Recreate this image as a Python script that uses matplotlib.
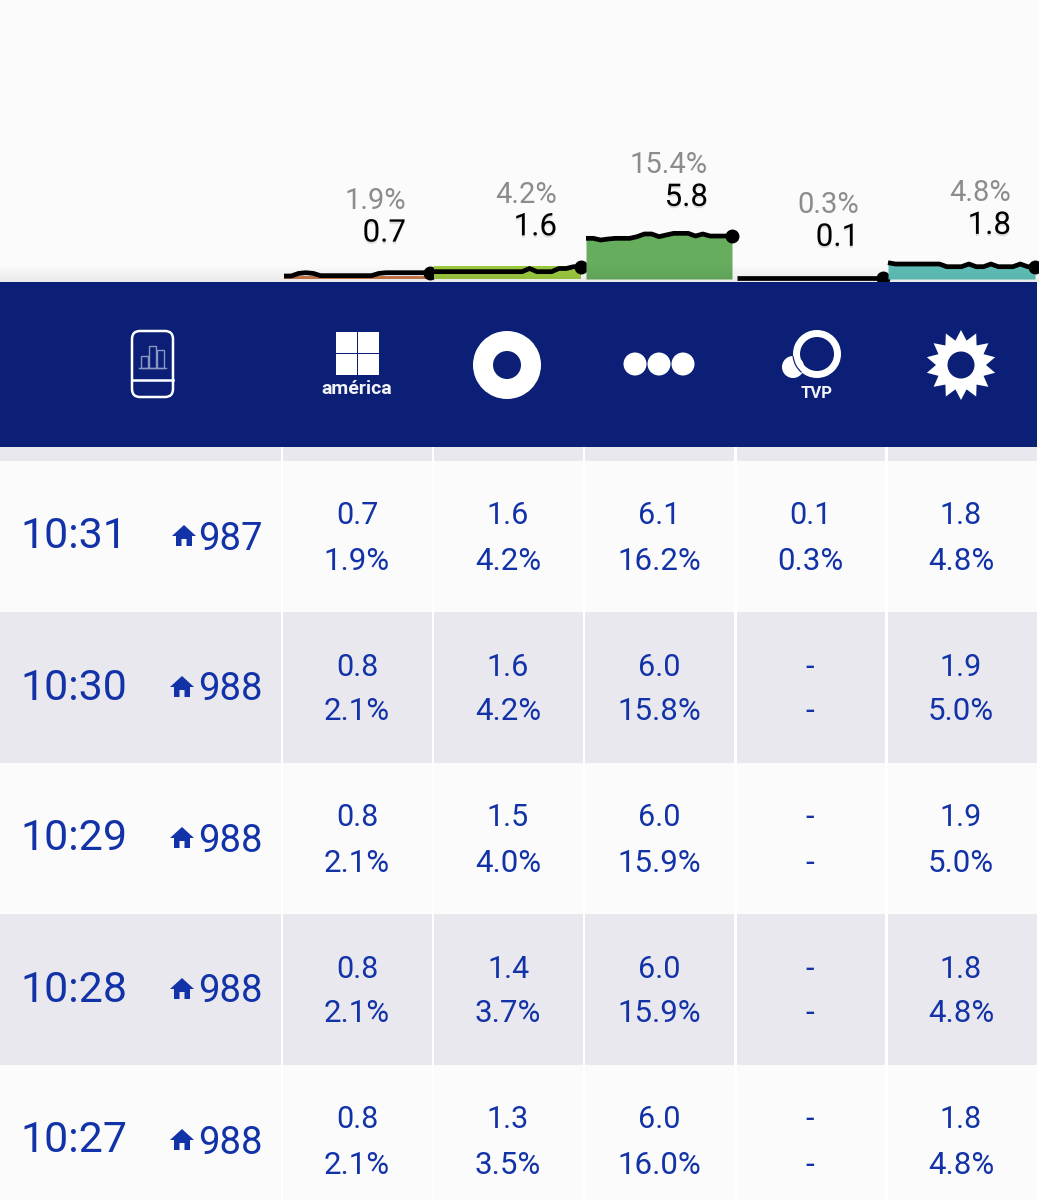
#Minute by minute TV ratings table with the small sparklines on top
import numpy as np
import matplotlib
matplotlib.use("Agg")
import matplotlib.pyplot as plt
import matplotlib.patheffects as pe
from matplotlib.patches import Rectangle, Circle, FancyBboxPatch, Polygon, Wedge

plt.rcParams["font.family"] = ["Roboto", "DejaVu Sans"]

#Table values
times = ["10:31", "10:30", "10:29", "10:28", "10:27"]
homes = ["987", "988", "988", "988", "988"]
america_rating = ["0.7", "0.8", "0.8", "0.8", "0.8"]
america_share = ["1.9%", "2.1%", "2.1%", "2.1%", "2.1%"]
ch9_rating = ["1.6", "1.6", "1.5", "1.4", "1.3"]
ch9_share = ["4.2%", "4.2%", "4.0%", "3.7%", "3.5%"]
ch13_rating = ["6.1", "6.0", "6.0", "6.0", "6.0"]
ch13_share = ["16.2%", "15.8%", "15.9%", "15.9%", "16.0%"]
tvp_rating = ["0.1", "-", "-", "-", "-"]
tvp_share = ["0.3%", "-", "-", "-", "-"]
telefe_rating = ["1.8", "1.9", "1.9", "1.8", "1.8"]
telefe_share = ["4.8%", "5.0%", "5.0%", "4.8%", "4.8%"]

#Sparklines over the header
america_line = [.43, .43, .8, .9, .8, .48, .48, .48, .48, .48, .48, .48, .48, .8, .9, .9, .9, .9, .9, .9, .9]
ch9_line = [1.05, 1.05, 1.05, 1.05, 1.05, 1.05, 1.05, 1.05, 1.05, 1.05, 1.05, 1.05, 1.05, 1.5, 1.05, 1.05, 1.05, 1.5, 1.5, 1.76, 1.76]
ch13_line = [5.81, 5.81, 5.57, 5.71, 5.81, 5.81, 5.81, 6.05, 6.43, 6.43, 6.05, 6.29, 6.52, 6.52, 6.52, 6.14, 6.43, 6.14, 6.14, 6.14, 6.14]
tvp_line = [.14] * 21
telefe_line = [2.33, 2.14, 2.14, 2.14, 2.14, 2.14, 2.14, 2.14, 1.76, 1.76, 1.76, 2.14, 1.76, 1.76, 2.14, 1.76, 1.76, 1.76, 2.14, 1.76, 1.76]
fill_levels = [.5, 1.85, 0, 0, 0]
now_rating = ["0.7", "1.6", "5.8", "0.1", "1.8"]
now_share = ["1.9%", "4.2%", "15.4%", "0.3%", "4.8%"]

W, H = 1039, 1200
NAVY = "#0a1f75"
BLUE = "#1233a8"
GRAY = "#e9e8ef"
BG = "#fbfbfb"
spark_colors = ["#c9784a", "#9bc93f", "#66ad5e", "#fbfbfb", "#5fbfb8"]
col_left = [283, 434, 585, 737, 888]
col_right = [432, 583, 734, 885, 1037]
col_center = [357, 508, 659, 810, 961]
spark_x = [(284, 430), (434, 581), (586, 732), (737, 883), (888, 1035)]
base_y = 279
px_per_unit = 7.0

fig = plt.figure(figsize=(W / 100, H / 100), dpi=100, facecolor=BG)

#Sparklines, under the table axes so the navy band cuts the dots
for i, line in enumerate([america_line, ch9_line, ch13_line, tvp_line, telefe_line]):
    x0, x1 = spark_x[i]
    ymax = 8
    sp = fig.add_axes([x0 / W, 1 - base_y / H, (x1 - x0) / W, ymax * px_per_unit / H], zorder=0)
    sp.patch.set_visible(False)
    sp.axis("off")
    xs = np.arange(len(line))
    sp.set_xlim(0, len(line) - 1)
    sp.set_ylim(0, ymax)
    top = np.maximum(line, fill_levels[i]) if i > 0 else np.full(len(line), fill_levels[i])
    sp.fill_between(xs, 0, top, color=spark_colors[i], lw=0, zorder=1)
    sp.plot(xs, line, color="black", lw=3.4, zorder=2, clip_on=False, solid_capstyle="butt", solid_joinstyle="round")
    sp.plot(xs[-1], line[-1], "o", color="black", ms=9, zorder=3, clip_on=False)

ax = fig.add_axes([0, 0, 1, 1], zorder=1)
ax.patch.set_visible(False)
ax.axis("off")

#Soft shadow above the header
shade = np.linspace(0, 1, 20).reshape(-1, 1)
ax.imshow(np.dstack([np.zeros((20, 1, 3)), shade * .07]), extent=(0, W, 282, 264), aspect="auto", zorder=0)
ax.set_xlim(0, W)
ax.set_ylim(H, 0)

#Labels over the sparklines
for i in range(5):
    right = spark_x[i][1] - 24
    y = base_y - float(now_rating[i]) * px_per_unit - 41
    ax.text(right, y, now_rating[i], ha="right", va="center", fontsize=22.5, color="black",
            path_effects=[pe.withSimplePatchShadow(offset=(0, -1.5), alpha=.12)])
    ax.text(right, y - 32, now_share[i], ha="right", va="center", fontsize=21, color="#8c8c8c")

#Header band
ax.add_patch(Rectangle((0, 282), 1037, 165, color=NAVY, lw=0, zorder=2))

#Rows
row_top = 461
row_h = 151
ax.add_patch(Rectangle((0, 447), 281, 14, color=GRAY, lw=0, zorder=1))
ax.add_patch(Rectangle((281, 447), W - 281, H - 447, color="white", lw=0, zorder=1))
for l, r in zip(col_left, col_right):
    ax.add_patch(Rectangle((l, 447), r - l, 14, color=GRAY, lw=0, zorder=1))

ratings = [america_rating, ch9_rating, ch13_rating, tvp_rating, telefe_rating]
shares = [america_share, ch9_share, ch13_share, tvp_share, telefe_share]
for r in range(len(times)):
    top = row_top + r * row_h
    color = GRAY if r % 2 else BG
    ax.add_patch(Rectangle((0, top), 281, row_h, color=color, lw=0, zorder=1))
    ax.text(74, top + 76, times[r], ha="center", va="center", fontsize=31, color=BLUE, zorder=3)
    ax.text(263, top + 78, homes[r], ha="right", va="center", fontsize=27.5, color=BLUE, zorder=3)
    #little house
    hx = 184 if r == 0 else 182
    hy = top + 75
    ax.add_patch(Polygon([(hx - 12, hy), (hx, hy - 11), (hx + 12, hy), (hx + 8, hy), (hx + 8, hy + 10),
                          (hx + 2.5, hy + 10), (hx + 2.5, hy + 3), (hx - 2.5, hy + 3), (hx - 2.5, hy + 10),
                          (hx - 8, hy + 10), (hx - 8, hy), ], color=BLUE, lw=0, zorder=3))
    for c in range(5):
        ax.add_patch(Rectangle((col_left[c], top), col_right[c] - col_left[c], row_h, color=color, lw=0, zorder=1))
        ax.text(col_center[c], top + 55, ratings[c][r], ha="center", va="center", fontsize=22, color=BLUE, zorder=3)
        ax.text(col_center[c], top + 100, shares[c][r], ha="center", va="center", fontsize=22.5, color=BLUE, zorder=3)

#Header icons
ax.add_patch(FancyBboxPatch((132, 331), 41, 66, boxstyle="round,pad=0,rounding_size=8", fc="none", ec="white", lw=1.8, zorder=3))
ax.plot([132, 173], [380, 380], color="white", lw=1.8, zorder=3)
for bx, bh in zip([141, 149, 157], [12, 22, 18]):
    ax.add_patch(Rectangle((bx, 368 - bh), 7, bh, fc="none", ec="#8c97c6", lw=1, zorder=3))
ax.plot([139, 166], [368, 368], color="#8c97c6", lw=1, zorder=3)

for sx in [336, 358]:
    for sy in [332, 354]:
        ax.add_patch(Rectangle((sx, sy), 20.5, 20.5, color="white", lw=0, zorder=3))
ax.text(356.5, 389, "américa", ha="center", va="center", fontsize=14, fontweight="bold", color="#f2f2f8", zorder=3)

ax.add_patch(Wedge((507, 365), 34, 0, 360, width=20, color="white", lw=0, zorder=3))

for cx in [635, 659, 683]:
    ax.add_patch(Circle((cx, 364), 11.5, color="white", lw=0, zorder=3))

ax.add_patch(Wedge((817, 354), 24, 0, 360, width=7, color="white", lw=0, zorder=3))
ax.add_patch(Circle((793, 367), 11, color="white", lw=0, zorder=4))
ax.add_patch(Wedge((817, 354), 24.6, 130, 175, width=1.2, color=NAVY, lw=0, zorder=5))
ax.text(817, 393, "TVP", ha="center", va="center", fontsize=12, fontweight="bold", color="#f2f2f8", zorder=3)

n = 14
ang = np.linspace(0, 2 * np.pi, 2 * n, endpoint=False) - np.pi / 2
rad = np.where(np.arange(2 * n) % 2 == 0, 35, 25)
ax.add_patch(Polygon(np.c_[961 + rad * np.cos(ang), 365 + rad * np.sin(ang)], color="white", lw=0, zorder=3))
ax.add_patch(Circle((961, 365), 13.5, color=NAVY, lw=0, zorder=4))

fig.savefig("out.png", dpi=100, facecolor=BG)
